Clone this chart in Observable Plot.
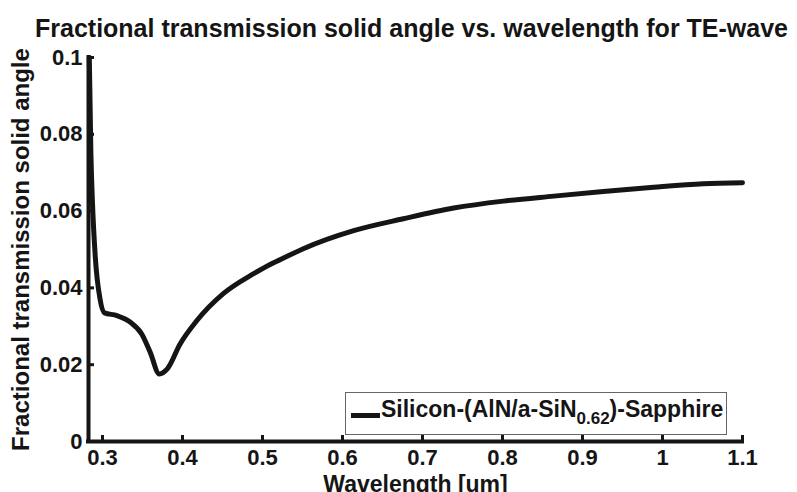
<!DOCTYPE html>
<html>
<head>
<meta charset="utf-8">
<script src="https://cdn.jsdelivr.net/npm/d3@7"></script>
<script src="https://cdn.jsdelivr.net/npm/@observablehq/plot@0.6"></script>
<style>
  html, body { margin: 0; padding: 0; background: #fff; }
  #wrap { position: relative; width: 797px; height: 492px; overflow: hidden; font-family: "Liberation Sans", Arial, sans-serif; color: #151515; }
  #wrap svg { position: absolute; left: 0; top: 0; }
  #title { position: absolute; left: 35px; top: 16px; font-size: 25px; font-weight: bold; line-height: 25px; white-space: nowrap; }
  #legend { position: absolute; left: 345px; top: 392px; width: 382px; height: 43px; border: 1px solid #666; background: #fff; box-sizing: border-box; }
  #legend .swatch { position: absolute; left: 5px; top: 20px; width: 29px; height: 5px; background: #151515; }
  #legend .txt { position: absolute; left: 35px; top: 3px; font-size: 23px; font-weight: bold; line-height: 26px; white-space: nowrap; }
  #legend sub { font-size: 17px; vertical-align: -7px; line-height: 0; }
  g[aria-label="y-axis label"] text { font-size: 24px; }
  g[aria-label="x-axis label"] text { font-size: 23px; }
</style>
</head>
<body>
<div id="wrap">
  <div id="title">Fractional transmission solid angle vs. wavelength for TE-wave</div>
</div>
<script>
// Data
const wavelength = [0.2835, 0.2855, 0.2875, 0.291, 0.297, 0.3025, 0.318, 0.3345, 0.349, 0.3595, 0.371, 0.381, 0.397, 0.418, 0.451, 0.489, 0.5095, 0.5225, 0.551, 0.614, 0.676, 0.739, 0.801, 0.864, 0.926, 0.989, 1.051, 1.1];
const fraction   = [0.1, 0.075, 0.062, 0.048, 0.037, 0.0335, 0.0328, 0.0311, 0.028, 0.0233, 0.0176, 0.0189, 0.0254, 0.0315, 0.0385, 0.0437, 0.0461, 0.0474, 0.0502, 0.0549, 0.058, 0.0608, 0.0626, 0.0639, 0.0651, 0.0662, 0.0671, 0.0674];
const xTicks = [0.3, 0.4, 0.5, 0.6, 0.7, 0.8, 0.9, 1, 1.1];
const yTicks = [0, 0.02, 0.04, 0.06, 0.08, 0.1];
const xDomain = [0.2825, 1.1];
const yDomain = [0, 0.1];
const seriesName = "Silicon-(AlN/a-SiN";
const seriesSub = "0.62";
const seriesTail = ")-Sapphire";

const data = wavelength.map((w, i) => ({w, f: fraction[i]}));

const chart = Plot.plot({
  width: 797,
  height: 492,
  marginTop: 57,
  marginRight: 55,
  marginBottom: 51,
  marginLeft: 88,
  style: {fontFamily: "'Liberation Sans', Arial, sans-serif", fontWeight: "bold", fontSize: "22px", color: "#151515", background: "transparent", overflow: "visible"},
  x: {domain: xDomain},
  y: {domain: yDomain},
  marks: [
    Plot.axisX(xTicks, {tickSize: 0, tickPadding: 8, tickFormat: d => String(d), label: "Wavelength [um]", labelAnchor: "center", labelOffset: 50, labelArrow: "none"}),
    Plot.axisY(yTicks, {tickSize: 0, tickPadding: 6, tickFormat: d => String(d), label: "Fractional transmission solid angle", labelAnchor: "center", labelOffset: 77, labelArrow: "none"}),
    Plot.tickX(xTicks, {x: d => d, insetTop: 378, strokeWidth: 3, stroke: "#151515"}),
    Plot.tickY(yTicks, {y: d => d, insetRight: 648, strokeWidth: 3, stroke: "#151515"}),
    Plot.ruleY([yDomain[0]], {strokeWidth: 4, stroke: "#151515", strokeLinecap: "square"}),
    Plot.ruleX([xDomain[0]], {strokeWidth: 4, stroke: "#151515", strokeLinecap: "square"}),
    Plot.line(data, {x: "w", y: "f", strokeWidth: 5, stroke: "#151515", strokeLinejoin: "round", curve: "monotone-x"})
  ]
});
const wrap = document.getElementById("wrap");
wrap.insertBefore(chart, wrap.firstChild);

const legend = document.createElement("div");
legend.id = "legend";
legend.innerHTML = `<div class="swatch"></div><div class="txt"></div>`;
const txt = legend.querySelector(".txt");
txt.append(seriesName);
const sub = document.createElement("sub");
sub.textContent = seriesSub;
txt.append(sub);
txt.append(seriesTail);
wrap.appendChild(legend);
</script>
</body>
</html>
